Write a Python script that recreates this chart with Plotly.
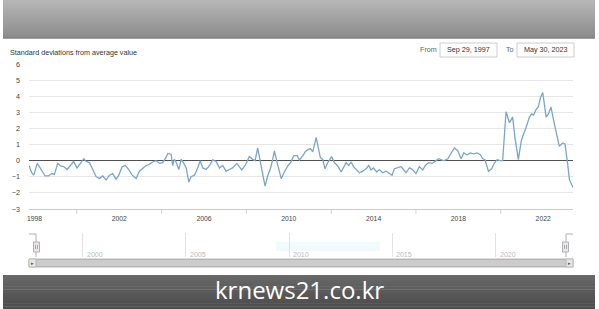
import plotly.graph_objects as go
import pandas as pd

# ---------------- data ----------------
dec_years = [
    1997.74, 1997.87, 1997.97, 1998.13, 1998.32, 1998.50, 1998.66, 1998.82, 1998.94,
    1999.10, 1999.23, 1999.38, 1999.54, 1999.70, 1999.85, 2000.01, 2000.17, 2000.33,
    2000.44, 2000.59, 2000.75, 2000.91, 2001.07, 2001.22, 2001.38, 2001.54, 2001.69,
    2001.85, 2001.98, 2002.14, 2002.29, 2002.45, 2002.61, 2002.80, 2002.95, 2003.11,
    2003.27, 2003.42, 2003.58, 2003.74, 2003.90, 2004.05, 2004.21, 2004.29, 2004.45,
    2004.52, 2004.60, 2004.68, 2004.81, 2004.92, 2005.03, 2005.16, 2005.28, 2005.39,
    2005.55, 2005.70, 2005.82, 2005.94, 2006.10, 2006.25, 2006.41, 2006.57, 2006.73,
    2006.88, 2007.04, 2007.20, 2007.35, 2007.55, 2007.78, 2007.94, 2008.06, 2008.14,
    2008.30, 2008.41, 2008.53, 2008.66, 2008.77, 2008.88, 2009.00, 2009.13, 2009.24,
    2009.32, 2009.45, 2009.56, 2009.64, 2009.79, 2009.95, 2010.11, 2010.23, 2010.39,
    2010.50, 2010.66, 2010.77, 2010.89, 2011.02, 2011.13, 2011.29, 2011.40, 2011.49,
    2011.60, 2011.71, 2011.84, 2012.02, 2012.15, 2012.31, 2012.47, 2012.62, 2012.70,
    2012.83, 2012.94, 2013.05, 2013.20, 2013.33, 2013.49, 2013.65, 2013.77, 2013.88,
    2013.99, 2014.15, 2014.27, 2014.43, 2014.59, 2014.75, 2014.87, 2014.98, 2015.14,
    2015.30, 2015.41, 2015.53, 2015.69, 2015.84, 2016.00, 2016.16, 2016.32, 2016.44,
    2016.60, 2016.76, 2016.92, 2017.07, 2017.23, 2017.34, 2017.50, 2017.66, 2017.81,
    2017.97, 2018.13, 2018.25, 2018.41, 2018.57, 2018.72, 2018.88, 2019.04, 2019.15,
    2019.26, 2019.42, 2019.57, 2019.70, 2019.83, 2019.98, 2020.09, 2020.25, 2020.41,
    2020.56, 2020.67, 2020.83, 2020.96, 2021.05, 2021.19, 2021.35, 2021.46, 2021.55,
    2021.67, 2021.77, 2021.87, 2021.98, 2022.14, 2022.25, 2022.37, 2022.50, 2022.66,
    2022.76, 2022.92, 2023.03, 2023.16, 2023.24, 2023.41,
]
values = [
    -0.30, -0.75, -0.90, -0.17, -0.55, -0.95, -0.95, -0.80, -0.85,
    -0.17, -0.33, -0.37, -0.55, -0.30, -0.05, -0.45, -0.20, 0.12,
    -0.05, -0.12, -0.55, -1.00, -1.10, -0.95, -1.20, -0.90, -0.80,
    -1.15, -0.90, -0.37, -0.30, -0.55, -0.90, -1.10, -0.65, -0.45,
    -0.30, -0.23, -0.08, 0.00, -0.17, -0.12, 0.20, 0.45, 0.40,
    -0.30, 0.08, -0.08, -0.55, 0.08, -0.12, -0.45, -1.33, -1.00,
    -0.90, -0.45, 0.00, -0.45, -0.55, -0.33, 0.05, -0.05, -0.45,
    -0.30, -0.65, -0.55, -0.45, -0.17, -0.58, -0.30, 0.00, 0.25,
    0.08, 0.00, 0.80, -0.12, -0.65, -1.58, -0.95, -0.50, 0.08,
    0.60, -0.12, -0.70, -1.12, -0.70, -0.33, -0.08, 0.30, 0.33,
    0.04, 0.30, 0.54, 0.67, 0.75, 0.54, 1.44, 0.75, 0.19,
    0.08, -0.50, -0.12, 0.25, -0.12, -0.33, -0.70, -0.33, -0.12,
    -0.30, -0.08, -0.37, -0.55, -0.75, -0.65, -0.50, -0.30, -0.58,
    -0.45, -0.70, -0.55, -0.75, -0.65, -0.80, -0.90, -0.50, -0.45,
    -0.37, -0.55, -0.75, -0.45, -0.55, -0.80, -0.37, -0.58, -0.30,
    -0.12, -0.17, -0.02, 0.12, 0.04, 0.00, 0.12, 0.48, 0.79,
    0.62, 0.12, 0.48, 0.37, 0.48, 0.42, 0.48, 0.37, 0.12,
    0.06, -0.67, -0.50, -0.15, 0.06, 0.00, 0.00, 3.04, 2.35,
    2.70, 1.42, 0.06, 1.20, 1.58, 2.04, 2.70, 2.90, 2.83,
    3.19, 3.33, 3.90, 4.23, 2.70, 2.90, 3.33, 2.46, 1.52,
    0.90, 1.10, 1.04, -0.25, -1.19, -1.67,
]
x_label_years = [1998, 2002, 2006, 2010, 2014, 2018, 2022]
x_minor_years = [2000, 2004, 2008, 2012, 2016, 2020]
nav_label_years = [2000, 2005, 2010, 2015, 2020]
y_ticks = [-3, -2, -1, 0, 1, 2, 3, 4, 5, 6]
title_text = "Standard deviations from average value"
from_text, to_text = "Sep 29, 1997", "May 30, 2023"
date_start, date_end = "1997-09-29", "2023-05-30"
watermark = "krnews21.co.kr"


def to_date(y):
    yr = int(y)
    a = pd.Timestamp(yr, 1, 1)
    b = pd.Timestamp(yr + 1, 1, 1)
    return a + (b - a) * (y - yr)


dates = [to_date(y) for y in dec_years]

# ---------------- layout helpers ----------------
W, H = 599, 309


def fx(p):
    return p / W


def fy(p):
    return 1 - p / H


FONT = "Liberation Sans, Arial, sans-serif"
shapes = []
annotations = []


def rect(x0, y0, x1, y1, fill, line=None, lw=0, layer="below"):
    shapes.append(dict(type="rect", xref="paper", yref="paper",
                       x0=fx(x0), x1=fx(x1), y0=fy(y1), y1=fy(y0),
                       fillcolor=fill, layer=layer,
                       line=dict(color=line or fill, width=lw)))


def hline(x0, x1, y, color, w=1, layer="above"):
    shapes.append(dict(type="line", xref="paper", yref="paper",
                       x0=fx(x0), x1=fx(x1), y0=fy(y), y1=fy(y), layer=layer,
                       line=dict(color=color, width=w)))


def vline(x, y0, y1, color, w=1, layer="above"):
    shapes.append(dict(type="line", xref="paper", yref="paper",
                       x0=fx(x), x1=fx(x), y0=fy(y0), y1=fy(y1), layer=layer,
                       line=dict(color=color, width=w)))


def text(x, y, s, size=7.2, color="#333", xanchor="left", family=FONT):
    annotations.append(dict(xref="paper", yref="paper", x=fx(x), y=fy(y), text=s,
                            showarrow=False, xanchor=xanchor, yanchor="middle",
                            font=dict(family=family, size=size, color=color)))


def lerp(c0, c1, t):
    return "rgb(%d,%d,%d)" % tuple(round(a + (b - a) * t) for a, b in zip(c0, c1))


# header gradient
n = 19
for i in range(n):
    y0 = i * 38 / n
    rect(3, y0, 595, y0 + 38 / n + 0.4, lerp((182, 182, 182), (140, 140, 140), i / (n - 1)))
hline(3, 595, 38, "#7c7c7c", 1)

# bottom dark bar
n = 12
for i in range(n):
    y0 = 275 + i * 34 / n
    rect(3, y0, 595, y0 + 34 / n + 0.4, lerp((104, 104, 104), (76, 76, 76), i / (n - 1)))
text(299, 289, watermark, size=24, color="#ffffff", xanchor="center", family="Open Sans, sans-serif")

# title and date boxes
text(8, 52, title_text, color="#333333")
text(418, 50, "From", color="#666")
rect(440, 43, 497, 57, "#ffffff", "#cccccc", 1)
text(468.5, 50, from_text, xanchor="center")
text(504, 50, "To", color="#666")
rect(517, 43, 574, 57, "#ffffff", "#cccccc", 1)
text(545.5, 50, to_text, xanchor="center")

# navigator decorations
hline(29, 36, 234, "#b0b0b0", 1)
vline(36, 234, 257, "#b0b0b0", 1)
hline(566, 573, 234, "#b0b0b0", 1)
vline(566, 234, 257, "#b0b0b0", 1)
rect(276, 242, 380, 251, "rgba(215,240,248,0.35)")
for hx in (36.5, 565.5):
    rect(hx - 3, 242, hx + 3, 252, "#ebe7e8", "#b2b1b6", 1, layer="above")
    vline(hx - 1, 245, 249, "#999", 0.8)
    vline(hx + 1, 245, 249, "#999", 0.8)
# scrollbar
rect(29, 259, 573, 267, "#eeeeee", "#bbbbbb", 1)
rect(36, 259.5, 566, 266.5, "#cccccc", "#b5b5b5", 1)
rect(29, 259, 36, 267, "#e6e6e6", "#bbbbbb", 1)
rect(566, 259, 573, 267, "#e6e6e6", "#bbbbbb", 1)
text(32.5, 263, "▸", size=5, color="#555", xanchor="center")
text(569.5, 263, "▸", size=5, color="#555", xanchor="center")
for yr in nav_label_years:
    annotations.append(dict(xref="x2", yref="paper", x=pd.Timestamp(yr, 1, 1), y=fy(254),
                            text=str(yr), showarrow=False, xanchor="left", xshift=2,
                            yanchor="middle", font=dict(family=FONT, size=7, color="#bbbbbb")))

# minor x ticks
for yr in x_minor_years:
    shapes.append(dict(type="line", xref="x", yref="paper",
                       x0=pd.Timestamp(yr, 1, 1), x1=pd.Timestamp(yr, 1, 1),
                       y0=fy(209), y1=fy(213.5), line=dict(color="#c0d0e0", width=1)))

fig = go.Figure()
fig.add_trace(go.Scatter(x=dates, y=values, mode="lines",
                         line=dict(color="#7aa6cb", width=1.3), hoverinfo="skip"))
fig.add_trace(go.Scatter(x=dates, y=values, mode="lines", xaxis="x2", yaxis="y2",
                         line=dict(color="rgba(0,0,0,0)", width=1), hoverinfo="skip"))

fig.update_layout(
    width=W, height=H,
    margin=dict(l=0, r=0, t=0, b=0, autoexpand=False),
    paper_bgcolor="#ffffff", plot_bgcolor="#ffffff",
    showlegend=False,
    shapes=shapes, annotations=annotations,
    xaxis=dict(type="date", range=[date_start, date_end], domain=[fx(29), fx(573)],
               anchor="y", showgrid=False, zeroline=False,
               tickvals=[pd.Timestamp(y, 1, 1) for y in x_label_years],
               ticktext=[str(y) for y in x_label_years],
               ticks="", showline=True, linecolor="#c0d0e0", linewidth=1,
               ticklabelstandoff=3,
               tickfont=dict(family=FONT, size=6.8, color="#444")),
    yaxis=dict(range=[-3, 6], domain=[fy(209), fy(64)], anchor="x",
               tickvals=y_ticks, ticks="", showgrid=True, gridcolor="#e6e6e6", gridwidth=1,
               zeroline=True, zerolinecolor="#505050", zerolinewidth=1.3,
               ticklabelstandoff=8,
               tickfont=dict(family=FONT, size=7.2, color="#444")),
    xaxis2=dict(type="date", range=[date_start, date_end], domain=[fx(36), fx(566)],
                anchor="y2", showgrid=True, gridcolor="#e3e3e3",
                tickvals=[pd.Timestamp(y, 1, 1) for y in nav_label_years],
                showticklabels=False, ticks="", zeroline=False, showline=False),
    yaxis2=dict(range=[-3, 6], domain=[fy(257), fy(233)], anchor="x2", visible=False),
)

fig.write_html("out.html")
